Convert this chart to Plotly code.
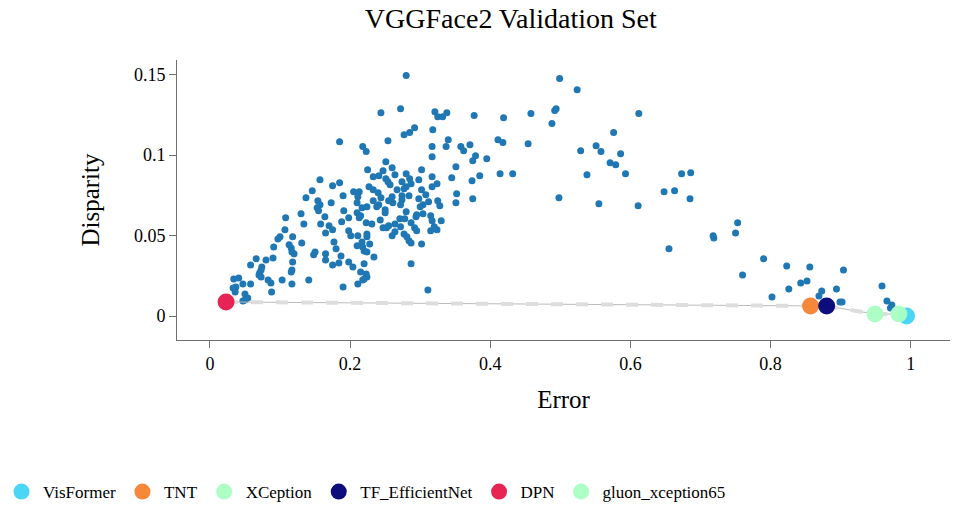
import plotly.graph_objects as go

# all models (error, disparity)
model_error = [
    0.157, 0.175, 0.146, 0.137, 0.154, 0.157, 0.153, 0.155, 0.173, 0.130,
    0.108, 0.164, 0.134, 0.158, 0.170, 0.175, 0.107, 0.165, 0.118, 0.100,
    0.097, 0.177, 0.131, 0.113, 0.091, 0.116, 0.180, 0.117, 0.120, 0.150,
    0.148, 0.165, 0.165, 0.066, 0.080, 0.090, 0.118, 0.058, 0.175, 0.074,
    0.073, 0.117, 0.116, 0.071, 0.070, 0.073, 0.034, 0.041, 0.083, 0.087,
    0.103, 0.141, 0.047, 0.058, 0.117, 0.037, 0.033, 0.036, 0.088, 0.050,
    0.054, 0.050, 0.047,
    0.280, 0.244, 0.272, 0.321, 0.325, 0.332, 0.338, 0.377, 0.292, 0.285,
    0.277, 0.318, 0.185, 0.254, 0.340, 0.218, 0.223, 0.317, 0.337, 0.358,
    0.362, 0.371, 0.379, 0.375, 0.395, 0.317, 0.251, 0.225, 0.260, 0.247,
    0.302, 0.351, 0.233, 0.241, 0.251, 0.264, 0.280, 0.285, 0.298, 0.317,
    0.345, 0.374, 0.385,
    0.185, 0.227, 0.233, 0.254, 0.257, 0.274, 0.280, 0.277, 0.267, 0.302,
    0.317, 0.324, 0.287, 0.190, 0.205, 0.213, 0.211, 0.240, 0.244, 0.260,
    0.261, 0.255, 0.274, 0.274, 0.272, 0.284, 0.308, 0.298, 0.304, 0.300,
    0.312, 0.325, 0.328, 0.352, 0.351, 0.375, 0.210, 0.217, 0.224, 0.233,
    0.238, 0.241, 0.250, 0.250, 0.191, 0.210, 0.215, 0.213, 0.198, 0.188,
    0.223, 0.231, 0.243, 0.280, 0.271, 0.278, 0.287, 0.294, 0.295, 0.304,
    0.315, 0.317, 0.330, 0.292, 0.295, 0.315, 0.320, 0.324, 0.247, 0.252,
    0.255, 0.264, 0.272, 0.198, 0.201, 0.211, 0.224, 0.224, 0.264, 0.260,
    0.277, 0.281, 0.284, 0.287, 0.302, 0.210, 0.217, 0.218, 0.220, 0.228,
    0.224, 0.187, 0.234, 0.184, 0.198, 0.204, 0.220, 0.287, 0.215, 0.223,
    0.224, 0.220, 0.218, 0.211, 0.190, 0.311,
    0.499, 0.524, 0.494, 0.492, 0.419, 0.458, 0.612, 0.488, 0.576, 0.411,
    0.418, 0.454, 0.551, 0.558, 0.529, 0.586, 0.571, 0.579, 0.414, 0.432,
    0.538, 0.593, 0.673, 0.686, 0.648, 0.663, 0.498, 0.555, 0.611, 0.685,
    0.753, 0.718, 0.719, 0.750, 0.655, 0.790, 0.760, 0.823, 0.856, 0.904,
    0.826, 0.843, 0.852, 0.894, 0.873, 0.869, 0.802, 0.899, 0.902, 0.959,
    0.966, 0.973, 0.971,
]
model_disparity = [
    0.0846, 0.0809, 0.0778, 0.0734, 0.0716, 0.0691, 0.0672, 0.0653, 0.0703, 0.0635,
    0.0610, 0.0616, 0.0572, 0.0572, 0.0560, 0.0535, 0.0535, 0.0516, 0.0492, 0.0492,
    0.0479, 0.0460, 0.0454, 0.0442, 0.0429, 0.0423, 0.0417, 0.0398, 0.0386, 0.0398,
    0.0380, 0.0386, 0.0348, 0.0355, 0.0348, 0.0361, 0.0336, 0.0317, 0.0317, 0.0305,
    0.0286, 0.0286, 0.0274, 0.0268, 0.0255, 0.0243, 0.0230, 0.0236, 0.0224, 0.0205,
    0.0224, 0.0224, 0.0199, 0.0199, 0.0199, 0.0180, 0.0174, 0.0149, 0.0149, 0.0137,
    0.0112, 0.0100, 0.0093,
    0.1493, 0.1263, 0.1288, 0.1269, 0.1238, 0.1238, 0.1263, 0.1245, 0.1170, 0.1139,
    0.1126, 0.1157, 0.1083, 0.1089, 0.1095, 0.1052, 0.1021, 0.1052, 0.1052, 0.1052,
    0.1027, 0.1064, 0.0996, 0.0965, 0.0977, 0.0989, 0.0958, 0.0909, 0.0921, 0.0902,
    0.0909, 0.0927, 0.0865, 0.0871, 0.0853, 0.0877, 0.0884, 0.0853, 0.0846, 0.0865,
    0.0859, 0.0840, 0.0871,
    0.0828, 0.0803, 0.0784, 0.0834, 0.0815, 0.0834, 0.0803, 0.0790, 0.0784, 0.0784,
    0.0803, 0.0821, 0.0821, 0.0747, 0.0772, 0.0772, 0.0741, 0.0765, 0.0734, 0.0741,
    0.0703, 0.0716, 0.0747, 0.0722, 0.0691, 0.0747, 0.0753, 0.0728, 0.0691, 0.0678,
    0.0709, 0.0716, 0.0685, 0.0759, 0.0703, 0.0728, 0.0703, 0.0672, 0.0678, 0.0716,
    0.0678, 0.0691, 0.0660, 0.0641, 0.0653, 0.0641, 0.0622, 0.0610, 0.0610, 0.0585,
    0.0579, 0.0572, 0.0597, 0.0647, 0.0604, 0.0604, 0.0579, 0.0616, 0.0629, 0.0635,
    0.0622, 0.0591, 0.0591, 0.0548, 0.0529, 0.0529, 0.0554, 0.0535, 0.0548, 0.0548,
    0.0560, 0.0572, 0.0554, 0.0529, 0.0498, 0.0498, 0.0510, 0.0492, 0.0523, 0.0498,
    0.0510, 0.0492, 0.0467, 0.0454, 0.0448, 0.0436, 0.0460, 0.0429, 0.0404, 0.0448,
    0.0398, 0.0373, 0.0367, 0.0330, 0.0336, 0.0305, 0.0324, 0.0324, 0.0274, 0.0261,
    0.0243, 0.0230, 0.0224, 0.0199, 0.0180, 0.0162,
    0.1475, 0.1406, 0.1288, 0.1276, 0.1232, 0.1257, 0.1257, 0.1195, 0.1139, 0.1095,
    0.1077, 0.1070, 0.1058, 0.1021, 0.1027, 0.1008, 0.0952, 0.0940, 0.0884, 0.0884,
    0.0877, 0.0884, 0.0884, 0.0890, 0.0772, 0.0778, 0.0734, 0.0697, 0.0685, 0.0728,
    0.0579, 0.0498, 0.0485, 0.0516, 0.0417, 0.0355, 0.0255, 0.0311, 0.0305, 0.0286,
    0.0168, 0.0205, 0.0218, 0.0168, 0.0156, 0.0124, 0.0118, 0.0087, 0.0087, 0.0187,
    0.0093, 0.0068, 0.0050,
]

# pareto front models
front_names = ["VisFormer", "TNT", "XCeption", "TF_EfficientNet", "DPN", "gluon_xception65"]
front_error = [0.994, 0.857, 0.949, 0.880, 0.023, 0.983]
front_disparity = [0.0000, 0.0062, 0.0012, 0.0062, 0.0087, 0.0012]
front_colors = ["#42d4f4", "#f58231", "#aaffc3", "#000075", "#e6194b", "#aaffc3"]

x_ticks = [0, 0.2, 0.4, 0.6, 0.8, 1]
x_labels = ["0", "0.2", "0.4", "0.6", "0.8", "1"]
y_ticks = [0, 0.05, 0.1, 0.15]
y_labels = ["0", "0.05", "0.1", "0.15"]

FONT = "Liberation Serif"

order = sorted(range(len(front_error)), key=lambda i: front_error[i])
line_x = [front_error[i] for i in order]
line_y = [front_disparity[i] for i in order]

fig = go.Figure()
fig.add_trace(go.Scatter(
    x=model_error, y=model_disparity, mode="markers",
    marker=dict(color="#1f77b4", size=7), showlegend=False,
))
fig.add_trace(go.Scatter(
    x=line_x, y=line_y, mode="lines",
    line=dict(color="#bbbbbb", width=1), showlegend=False,
))
fig.add_trace(go.Scatter(
    x=line_x, y=line_y, mode="lines",
    line=dict(color="#dddddd", width=4, dash="12px,13px"), showlegend=False,
))
for name, ex, dy, col in zip(front_names, front_error, front_disparity, front_colors):
    fig.add_trace(go.Scatter(
        x=[ex], y=[dy], mode="markers", name=name,
        marker=dict(color=col, size=17, opacity=0.95),
    ))

axis_common = dict(
    showline=True, linecolor="#6e6e6e", linewidth=1,
    showgrid=False, zeroline=False,
    ticks="outside", ticklen=7, tickcolor="#6e6e6e",
    tickfont=dict(family=FONT, size=18, color="#000"),
)

# figure is a bit taller than the window so the legend sits low like the original
H = 510
fig.update_layout(
    width=953, height=H,
    paper_bgcolor="white", plot_bgcolor="white",
    font=dict(family=FONT, color="#000"),
    title=dict(text="VGGFace2 Validation Set", x=0.536, xref="container",
               y=1 - 18 / H, yanchor="middle", font=dict(family=FONT, size=28)),
    margin=dict(l=177, r=3, t=60, b=H - 340),
    xaxis=dict(axis_common, range=[-0.047, 1.056], tickvals=x_ticks, ticktext=x_labels,
               title=dict(text="Error", font=dict(family=FONT, size=25), standoff=17)),
    yaxis=dict(axis_common, range=[-0.0149, 0.159], tickvals=y_ticks, ticktext=y_labels,
               title=dict(text="Disparity", font=dict(family=FONT, size=25), standoff=27)),
    legend=dict(orientation="h", xref="container", yref="container",
                x=0.0, y=0.0, xanchor="left", yanchor="bottom", itemwidth=33,
                font=dict(family=FONT, size=17), itemsizing="trace"),
)

fig.write_html(
    "out.html",
    config={"displayModeBar": False},
    post_script="document.body.style.margin='0';document.body.style.overflow='hidden';",
)
